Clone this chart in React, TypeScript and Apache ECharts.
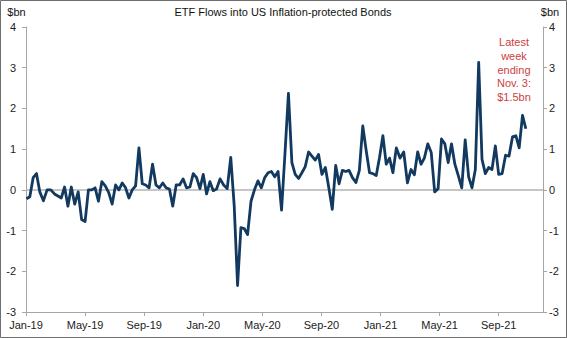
import React, { useEffect, useRef } from "react";
import * as echarts from "echarts";

// Weekly ETF flows ($bn), weeks starting 2 Jan 2019 through the week ending 3 Nov 2021
const firstWeek = "2019-01-02";
const flowValues: number[] = [
  -0.22, -0.17, 0.3, 0.4, -0.05, -0.27, 0.0, 0.0, -0.1, -0.15,
  -0.2, 0.07, -0.4, 0.07, -0.35, -0.05, -0.73, -0.78, 0.0, 0.0,
  0.05, -0.28, 0.2, 0.1, -0.07, -0.35, 0.12, 0.0, 0.17, 0.05,
  -0.2, 0.0, 0.1, 1.03, 0.15, 0.12, 0.05, 0.63, 0.12, 0.05,
  0.17, 0.05, 0.02, -0.4, 0.12, 0.12, 0.27, 0.05, 0.07, 0.4,
  0.3, 0.03, 0.38, -0.1, 0.2, -0.02, 0.02, 0.27, 0.12, 0.03,
  0.8, -0.4, -2.35, -0.93, -0.95, -1.1, -0.28, 0.0, 0.22, 0.05,
  0.3, 0.42, 0.45, 0.32, 0.45, -0.5, 0.9, 2.37, 0.67, 0.38,
  0.28, 0.42, 0.57, 0.93, 0.83, 0.73, 0.87, 0.38, 0.55, 0.05,
  -0.48, 0.6, 0.15, 0.48, 0.45, 0.48, 0.3, 0.18, 0.48, 1.57,
  0.96, 0.42, 0.4, 0.35, 0.8, 1.33, 0.63, 0.78, 0.42, 1.03,
  0.78, 0.93, 0.17, 0.5, 0.37, 0.93, 0.63, 0.78, 1.13, 0.92,
  -0.05, 0.03, 1.25, 1.13, 0.67, 1.13, 0.63, 0.35, 0.05, 1.23,
  0.32, 0.05, 0.5, 3.13, 0.75, 0.4, 0.55, 0.5, 1.08, 0.38,
  0.4, 0.85, 0.83, 1.3, 1.33, 1.03, 1.83, 1.5,
];

const monthNames = ["Jan", "Feb", "Mar", "Apr", "May", "Jun", "Jul", "Aug", "Sep", "Oct", "Nov", "Dec"];
const axisStartYear = 2019;
const axisMonths = 35; // Jan-19 .. Dec-21
const tickStepMonths = 4;
const yTicks = [-3, -2, -1, 0, 1, 2, 3, 4];

const titleText = "ETF Flows into US Inflation-protected Bonds";
const unitText = "$bn";
const noteText = "Latest\nweek\nending\nNov. 3:\n$1.5bn";

function monthIndex(t: number): number {
  const d = new Date(t);
  const y = d.getUTCFullYear();
  const m = d.getUTCMonth();
  const day = d.getUTCDate();
  const dim = new Date(Date.UTC(y, m + 1, 0)).getUTCDate();
  return (y - axisStartYear) * 12 + m + (day - 1) / dim;
}

export default function App() {
  const ref = useRef<HTMLDivElement>(null);
  useEffect(() => {
    if (!ref.current) return;
    const chart = echarts.init(ref.current, null, { renderer: "svg" });
    const start = Date.parse(firstWeek + "T00:00:00Z");
    const week = 7 * 86400000;
    const data = flowValues.map((v, i) => [monthIndex(start + i * week), v]);
    const font = "Liberation Sans, Arial, sans-serif";
    const axisGray = "#a6a6a6";
    const yAxisBase = {
      type: "value",
      min: yTicks[0],
      max: yTicks[yTicks.length - 1],
      interval: 1,
      splitLine: { show: false },
      axisLine: { show: true, lineStyle: { color: axisGray, width: 1 } },
      axisTick: { show: true, inside: false, length: 4, lineStyle: { color: axisGray } },
    };
    chart.setOption({
      animation: false,
      backgroundColor: "#ffffff",
      grid: { left: 26, right: 24, top: 27, bottom: 26, containLabel: false },
      xAxis: {
        type: "value",
        min: 0,
        max: axisMonths,
        interval: tickStepMonths,
        splitLine: { show: false },
        axisLine: { show: true, onZero: false, lineStyle: { color: axisGray, width: 1 } },
        axisTick: { show: true, length: 4, lineStyle: { color: axisGray } },
        axisLabel: {
          margin: 7,
          fontSize: 11,
          fontFamily: font,
          color: "#222",
          showMaxLabel: false,
          formatter: (v: number) => {
            if (Math.abs(v % tickStepMonths) > 1e-6) return "";
            const y = axisStartYear + Math.floor(v / 12);
            return monthNames[v % 12] + "-" + String(y).slice(2);
          },
        },
      },
      yAxis: [
        {
          ...yAxisBase,
          position: "left",
          axisLabel: { margin: 10, fontSize: 11, fontFamily: font, color: "#222" },
        },
        {
          ...yAxisBase,
          position: "right",
          axisLabel: { margin: 6, fontSize: 11, fontFamily: font, color: "#222" },
        },
      ],
      series: [
        {
          type: "line",
          data,
          yAxisIndex: 0,
          showSymbol: false,
          symbol: "none",
          lineStyle: { color: "#12395f", width: 2.8, join: "round" },
          z: 3,
          markLine: {
            silent: true,
            symbol: "none",
            label: { show: false },
            lineStyle: { color: "#b3b3b3", width: 1.5, type: "solid" },
            data: [{ yAxis: 0 }],
            z: 1,
          },
        },
      ],
      graphic: [
        {
          type: "rect",
          shape: { x: 0.5, y: 0.5, width: 566, height: 337 },
          style: { fill: "none", stroke: "#6e6e6e", lineWidth: 1 },
          silent: true,
        },
        {
          type: "text",
          x: 283,
          y: 12,
          style: { text: titleText, textAlign: "center", textVerticalAlign: "middle", font: "11px " + font, fill: "#111" },
        },
        {
          type: "text",
          x: 16.5,
          y: 12,
          style: { text: unitText, textAlign: "center", textVerticalAlign: "middle", font: "11px " + font, fill: "#111" },
        },
        {
          type: "text",
          x: 550,
          y: 12,
          style: { text: unitText, textAlign: "center", textVerticalAlign: "middle", font: "11px " + font, fill: "#111" },
        },
        {
          type: "text",
          x: 514,
          y: 35,
          style: {
            text: noteText,
            textAlign: "center",
            textVerticalAlign: "top",
            font: "11px " + font,
            lineHeight: 13.8,
            fill: "#cc3f3f",
          },
        },
      ],
    });
    return () => chart.dispose();
  }, []);
  return (
    <div
      ref={ref}
      style={{ position: "fixed", left: 0, top: 0, width: 567, height: 338, background: "#fff" }}
    />
  );
}
